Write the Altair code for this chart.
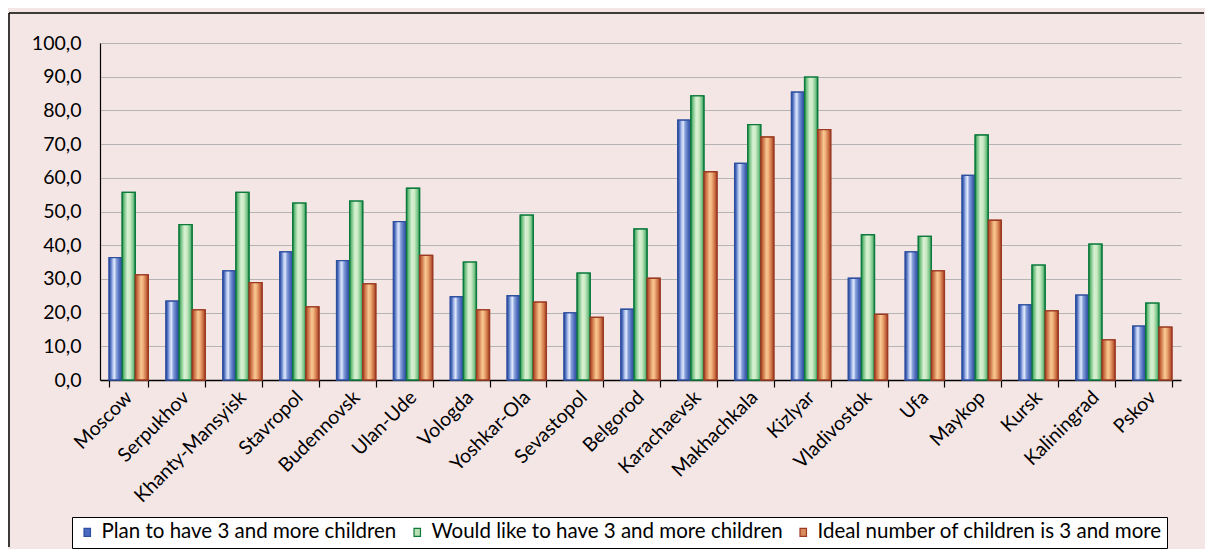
import altair as alt
import pandas as pd

cities = ["Moscow", "Serpukhov", "Khanty-Mansyisk", "Stavropol", "Budennovsk", "Ulan-Ude",
          "Vologda", "Yoshkar-Ola", "Sevastopol", "Belgorod", "Karachaevsk", "Makhachkala",
          "Kizlyar", "Vladivostok", "Ufa", "Maykop", "Kursk", "Kaliningrad", "Pskov"]
plan = [36.3, 23.4, 32.4, 38.0, 35.4, 47.0, 24.7, 25.0, 19.9, 21.0, 77.1, 64.3, 85.4, 30.2, 38.0, 60.7, 22.3, 25.2, 16.0]
would = [55.7, 46.1, 55.7, 52.5, 53.1, 56.9, 35.0, 48.9, 31.7, 44.8, 84.3, 75.8, 89.9, 43.1, 42.6, 72.7, 34.1, 40.3, 22.8]
ideal = [31.2, 20.8, 28.9, 21.7, 28.5, 37.0, 20.8, 23.1, 18.6, 30.2, 61.8, 72.1, 74.3, 19.5, 32.4, 47.4, 20.5, 11.9, 15.7]
series = ["Plan to have 3 and more children",
          "Would like to have 3 and more children",
          "Ideal number of children is 3 and more"]
y_ticks = [0, 10, 20, 30, 40, 50, 60, 70, 80, 90, 100]

rows = []
for s, vals in zip(series, [plan, would, ideal]):
    for c, v in zip(cities, vals):
        rows.append({"city": c, "series": s, "value": v})
df = pd.DataFrame(rows)

W, H = 1081, 337
BG = "#F5E6E6"
FONT = "Lato"

fills = ["#4a6cc0", "#b8e0b0", "#d88a5a"]
strokes = ["#2f4f9f", "#0b7a3c", "#9a3a22"]

def grad(stops):
    return alt.Gradient(gradient="linear", x1=0, x2=1, y1=0, y2=0,
                        stops=[alt.GradientStop(offset=o, color=c) for o, c in stops])

grads = [
    grad([(0, "#2a4a9a"), (0.12, "#5070c0"), (0.3, "#b8c8ee"), (0.42, "#dfe8fa"),
          (0.55, "#8aa2dc"), (0.8, "#4a68b8"), (1, "#2a4a9a")]),
    grad([(0, "#1a8a48"), (0.15, "#70c080"), (0.4, "#d8f0d2"), (0.6, "#cdebc6"),
          (0.85, "#78c488"), (1, "#1a8a48")]),
    grad([(0, "#a03e22"), (0.15, "#c86a40"), (0.45, "#f8c892"), (0.6, "#f0b07a"),
          (0.85, "#c86a40"), (1, "#a03e22")]),
]

x_enc = alt.X("city:N", sort=cities, title=None,
              scale=alt.Scale(paddingInner=0.31, paddingOuter=0.16),
              axis=alt.Axis(labelAngle=-45, labelAlign="right", labelBaseline="middle",
                            labelOverlap=False, labelPadding=7, tickBand="extent",
                            tickSize=7, tickColor="black", tickWidth=1.2,
                            domainColor="black", domainWidth=1.5, grid=False,
                            labelFont=FONT, labelFontSize=19.5, labelColor="black"))
xo_enc = alt.XOffset("series:N", sort=series, scale=alt.Scale(domain=series))
y_enc = alt.Y("value:Q", title=None,
              scale=alt.Scale(domain=[0, 100], nice=False),
              axis=alt.Axis(values=y_ticks, ticks=False, labelPadding=19, labelOverlap=False,
                            labelExpr="replace(format(datum.value, '.1f'), '.', ',')",
                            domainColor="black", domainWidth=1.2,
                            gridColor="#b4b4b4", gridWidth=1,
                            labelFont=FONT, labelFontSize=19.5, labelColor="black"))

legend = alt.Legend(title=None, orient="none", legendX=-28, legendY=474,
                    direction="horizontal", fillColor="white", strokeColor="black",
                    padding=5, labelFont=FONT, labelFontSize=20.5, labelColor="black",
                    labelLimit=0,
                    symbolType="M-0.4,-0.5H0.4V0.5H-0.4Z", symbolSize=260,
                    symbolStrokeWidth=1.2, columnPadding=10, labelOffset=4)

base = alt.Chart(df).mark_bar(strokeWidth=1.2).encode(
    x=x_enc, xOffset=xo_enc, y=y_enc,
    fill=alt.Fill("series:N", sort=series, scale=alt.Scale(domain=series, range=fills), legend=legend),
    stroke=alt.Stroke("series:N", sort=series, scale=alt.Scale(domain=series, range=strokes), legend=legend),
)

layers = [base]
for s, g, st in zip(series, grads, strokes):
    layers.append(
        alt.Chart(df).transform_filter(alt.datum.series == s)
        .mark_bar(fill=g, stroke=st, strokeWidth=1.3)
        .encode(x=x_enc, xOffset=xo_enc, y=y_enc)
    )

one = pd.DataFrame({"a": [0]})
frame_v = alt.Chart(one).mark_rule(color="black", strokeWidth=1.5).encode(
    x=alt.value(-91), y=alt.value(-30), y2=alt.value(504))
frame_h = alt.Chart(one).mark_rule(color="black", strokeWidth=1.5).encode(
    x=alt.value(-91), x2=alt.value(1104), y=alt.value(-30))
layers += [frame_v, frame_h]

chart = alt.layer(*layers).properties(
    width=W, height=H, background=BG,
    padding={"left": 0, "top": 4, "right": 0, "bottom": 0},
).configure_view(stroke=None)

chart.save("out.html", embed_options={"renderer": "svg", "actions": False})
